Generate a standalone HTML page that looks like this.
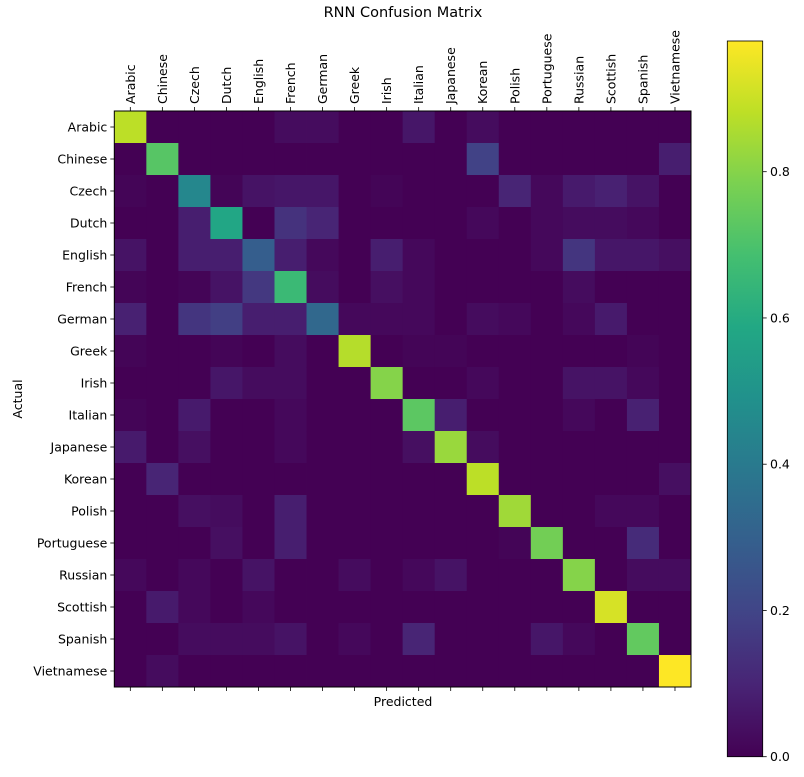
<!DOCTYPE html>
<html><head><meta charset="utf-8"><style>
html,body{margin:0;padding:0;background:#fff;}
svg text{font-family:"DejaVu Sans","Liberation Sans",sans-serif;font-size:12.5px;fill:#000;}
</style></head><body>
<svg id="s" width="804" height="772" xmlns="http://www.w3.org/2000/svg">
<defs>
<linearGradient id="vg" x1="0" y1="1" x2="0" y2="0">
<stop offset="0" stop-color="#440154"/>
<stop offset="0.1" stop-color="#482475"/>
<stop offset="0.2" stop-color="#414487"/>
<stop offset="0.3" stop-color="#355f8d"/>
<stop offset="0.4" stop-color="#2a788e"/>
<stop offset="0.5" stop-color="#21918c"/>
<stop offset="0.6" stop-color="#22a884"/>
<stop offset="0.7" stop-color="#44bf70"/>
<stop offset="0.8" stop-color="#7ad151"/>
<stop offset="0.9" stop-color="#bddf26"/>
<stop offset="1" stop-color="#fde725"/>
</linearGradient>
</defs>
<text x="403" y="17" text-anchor="middle" style="font-size:14.5px">RNN Confusion Matrix</text>
<g id="cells"></g>
<rect x="114.3" y="111" width="576.7" height="576" fill="none" stroke="#000" stroke-width="1"/>
<g id="labels"></g>
<text x="403" y="706" text-anchor="middle">Predicted</text>
<text transform="translate(22,399) rotate(-90)" text-anchor="middle">Actual</text>
<rect x="727.3" y="41" width="35.4" height="715.7" fill="url(#vg)" stroke="#000" stroke-width="0.8"/>
<g id="cb"></g>
</svg>
<script>
const L=["Arabic","Chinese","Czech","Dutch","English","French","German","Greek","Irish","Italian","Japanese","Korean","Polish","Portuguese","Russian","Scottish","Spanish","Vietnamese"];
const D={
Arabic:{Arabic:.88,French:.03,German:.03,Italian:.06,Korean:.03},
Chinese:{Chinese:.72,Korean:.19,Vietnamese:.08},
Czech:{Arabic:.01,Czech:.45,Dutch:.01,English:.05,French:.06,German:.06,Irish:.01,Polish:.1,Portuguese:.02,Russian:.07,Scottish:.09,Spanish:.05},
Dutch:{Czech:.08,Dutch:.58,French:.14,German:.1,Korean:.02,Portuguese:.02,Russian:.03,Scottish:.03,Spanish:.02},
English:{Arabic:.05,Czech:.08,Dutch:.08,English:.29,French:.08,German:.02,Irish:.08,Italian:.02,Portuguese:.02,Russian:.15,Scottish:.06,Spanish:.06,Vietnamese:.04},
French:{Arabic:.01,Czech:.01,Dutch:.05,English:.16,French:.66,German:.03,Irish:.04,Italian:.02,Russian:.03},
German:{Arabic:.09,Czech:.15,Dutch:.18,English:.08,French:.08,German:.33,Greek:.02,Irish:.02,Italian:.02,Korean:.03,Polish:.02,Russian:.02,Scottish:.07},
Greek:{Arabic:.01,Dutch:.01,French:.03,Greek:.87,Italian:.01,Japanese:.01,Spanish:.01},
Irish:{Dutch:.06,English:.03,French:.03,Irish:.8,Korean:.02,Russian:.05,Scottish:.05,Spanish:.02},
Italian:{Arabic:.01,Czech:.07,French:.02,Italian:.73,Japanese:.08,Russian:.02,Spanish:.09},
Japanese:{Arabic:.07,Czech:.04,French:.02,Italian:.04,Japanese:.83,Korean:.03},
Korean:{Chinese:.1,Korean:.88,Vietnamese:.04},
Polish:{Czech:.04,Dutch:.03,French:.08,Polish:.84,Scottish:.02,Spanish:.02},
Portuguese:{Dutch:.04,French:.08,Polish:.01,Portuguese:.77,Spanish:.12},
Russian:{Arabic:.02,Czech:.02,English:.05,Greek:.03,Italian:.02,Japanese:.05,Russian:.8,Spanish:.03,Vietnamese:.03},
Scottish:{Chinese:.07,Czech:.02,English:.02,Scottish:.92},
Spanish:{Czech:.03,Dutch:.03,English:.03,French:.05,Greek:.02,Italian:.1,Portuguese:.06,Russian:.02,Spanish:.74},
Vietnamese:{Chinese:.03,Vietnamese:.98}};
const V=[[68,1,84],[72,36,117],[65,68,135],[53,95,141],[42,120,142],[33,145,140],[34,168,132],[68,191,112],[122,209,81],[189,223,38],[253,231,37]];
function col(v){v=Math.max(0,Math.min(1,v/0.98));const p=v*10,i=Math.min(9,Math.floor(p)),t=p-i;const c=V[i].map((a,k)=>Math.round(a+(V[i+1][k]-a)*t));return `rgb(${c})`;}
const NS="http://www.w3.org/2000/svg";
function el(t,a,txt,par){const e=document.createElementNS(NS,t);for(const k in a)e.setAttribute(k,a[k]);if(txt)e.textContent=txt;document.getElementById(par).appendChild(e);return e;}
const x0=114.3,y0=111,cw=576.7/18,ch=576/18;
for(let r=0;r<18;r++)for(let c=0;c<18;c++){const v=(D[L[r]]||{})[L[c]]||0;el("rect",{x:x0+c*cw,y:y0+r*ch,width:cw+0.4,height:ch+0.4,fill:col(v)},null,"cells");}
for(let i=0;i<18;i++){
const cx=x0+(i+0.5)*cw, cy=y0+(i+0.5)*ch;
el("line",{x1:cx,y1:y0,x2:cx,y2:y0-4,stroke:"#000","stroke-width":0.8},null,"labels");
el("line",{x1:cx,y1:y0+576,x2:cx,y2:y0+580,stroke:"#000","stroke-width":0.8},null,"labels");
el("line",{x1:x0,y1:cy,x2:x0-4,y2:cy,stroke:"#000","stroke-width":0.8},null,"labels");
el("text",{x:x0-7,y:cy+4.5,"text-anchor":"end"},L[i],"labels");
el("text",{transform:`translate(${cx+4.5},${y0-7}) rotate(-90)`,"text-anchor":"start"},L[i],"labels");
}
[[0,"0.0"],[.2,"0.2"],[.4,"0.4"],[.6,"0.6"],[.8,"0.8"]].forEach(([v,t])=>{const y=756.7-v/0.2*146.25;
el("line",{x1:762.7,y1:y,x2:766.7,y2:y,stroke:"#000","stroke-width":0.8},null,"cb");
el("text",{x:770,y:y+4.5},t,"cb");});
</script>
</body></html>
